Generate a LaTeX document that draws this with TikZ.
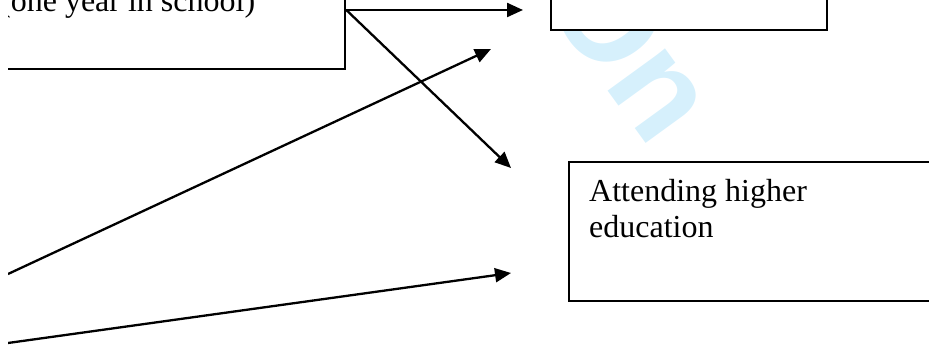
\documentclass[tikz,border=0pt]{standalone}
\usepackage{fontspec}
\setmainfont{Liberation Serif}
\setsansfont{Liberation Sans}
\usetikzlibrary{arrows.meta,positioning}
\definecolor{wmark}{RGB}{214,240,252}

\begin{document}
\begin{tikzpicture}[
    x=1pt, y=-1pt,
    >={Triangle[length=16pt,width=14pt]},
    line width=2.3pt,
    box/.style={rectangle, draw, fill=white, line width=2.3pt, anchor=north west, inner sep=0pt},
    boxtext/.style={inner sep=0pt, align=left, font=\fontsize{32}{36}\selectfont},
    wmtext/.style={text=wmark, inner sep=0pt, font=\fontsize{135}{135}\selectfont\sffamily\bfseries}
]
    \useasboundingbox (0,0) rectangle (929,347);
    \clip (8,-2) rectangle (931,349);

    % Watermark
    \node[wmtext, rotate=-54, anchor=base west] (wm) at (540,-2) {On};

    % Boxes
    \node[box, minimum width=365pt, minimum height=95pt] (school) at (-21,-27) {};
    \node[boxtext, anchor=base west] (schooltxt) at ([xshift=20pt, yshift=-39pt]school.north west) {(one year in school)};
    \node[box, minimum width=276pt, minimum height=139pt] (upper) at (550,-110) {};
    \node[box, minimum width=382pt, minimum height=139pt] (higher) at (568,161) {};
    \node[boxtext, anchor=north west] (highertxt) at ([xshift=20pt, yshift=-17pt]higher.north west) {Attending higher\\education};

    % Arrow ends
    \coordinate (fork) at (school.east |- 0,10);
    \coordinate (toupper) at (523,10);
    \coordinate (tohigher) at (511,168);
    \coordinate (rise) at (8,274);
    \coordinate (riseend) at (491,49);
    \coordinate (low) at (8,343);
    \coordinate (lowend) at (511,273);

    % Arrows
    \draw[->] (fork) -- (toupper);
    \draw[->] (fork) -- (tohigher);
    \draw[->] (rise) -- (riseend);
    \draw[->] (low) -- (lowend);
\end{tikzpicture}
\end{document}
